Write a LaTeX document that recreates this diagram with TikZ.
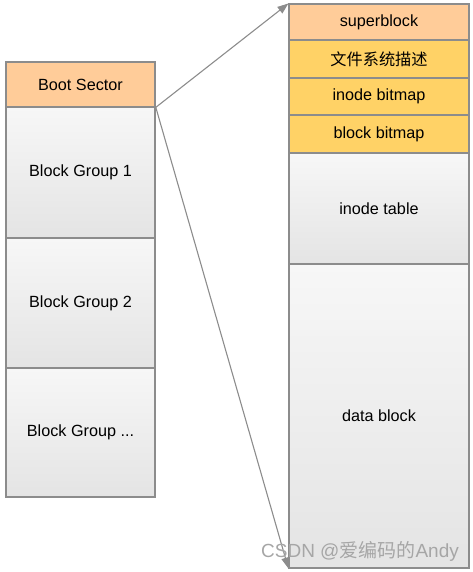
\documentclass[tikz,border=0pt]{standalone}
\usepackage{fontspec}
\setmainfont{Liberation Sans}
\newfontfamily\cjk{Noto Sans CJK SC}
\usetikzlibrary{arrows.meta}
\definecolor{edge}{HTML}{8C8C8C}
\definecolor{peach}{HTML}{FFCC99}
\definecolor{gold}{HTML}{FFD266}
\definecolor{gtop}{HTML}{F7F7F7}
\definecolor{gbot}{HTML}{E4E4E4}
\tikzset{
  blk/.style={draw=edge, line width=1.1pt, inner sep=0pt, font=\fontsize{16.2}{19}\selectfont},
  boot/.style={blk, fill=peach},
  meta/.style={blk, fill=gold},
  grp/.style={blk, top color=gtop, bottom color=gbot},
  link/.style={draw=edge, line width=1.1pt, -{Triangle[length=11pt,width=8pt]}}
}
\begin{document}
\begin{tikzpicture}[x=1pt,y=-1pt]
\useasboundingbox (0,0) rectangle (473,572);
% left column
\node[grp] (g1) at (80.5,172.5) [minimum width=149pt, minimum height=131pt] {Block Group 1};
\node[grp] (g2) at (80.5,303) [minimum width=149pt, minimum height=130pt] {Block Group 2};
\node[grp] (g3) at (80.5,432.5) [minimum width=149pt, minimum height=129pt] {Block Group ...};
\node[boot] (boot) at (80.5,84.5) [minimum width=149pt, minimum height=45pt] {Boot Sector};
% right column
\node[grp] (tab) at (379,208.5) [minimum width=180pt, minimum height=111pt] {inode table};
\node[grp] (data) at (379,416) [minimum width=180pt, minimum height=304pt] {data block};
\node[boot] (sb) at (379,22) [minimum width=180pt, minimum height=36pt] {superblock};
\node[meta] (fs) at (379,59) [minimum width=180pt, minimum height=38pt] {\cjk 文件系统描述};
\node[meta] (ib) at (379,96.5) [minimum width=180pt, minimum height=37pt] {inode bitmap};
\node[meta] (bb) at (379,134) [minimum width=180pt, minimum height=38pt] {block bitmap};
% connectors
\draw[link] (boot.south east) -- (sb.north west);
\draw[link] (g1.north east) -- (data.south west);
% watermark
\node[text=gray!70, font=\fontsize{19}{22}\selectfont, anchor=center] (wm) at (360,551) {CSDN @{\cjk 爱编码的}Andy};
\end{tikzpicture}
\end{document}
